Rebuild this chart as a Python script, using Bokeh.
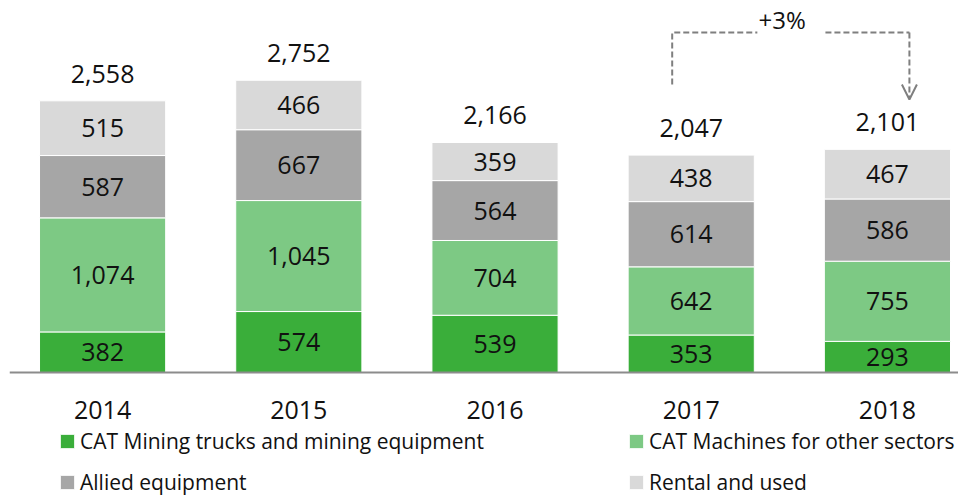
from bokeh.plotting import figure
from bokeh.models import (ColumnDataSource, Legend, LegendItem, Arrow,
                          OpenHead, Range1d, Span)
from bokeh.embed import file_html
from bokeh.resources import INLINE
from bokeh.core.properties import value

# ---- data ----
years = [2014, 2015, 2016, 2017, 2018]
mining = [382, 574, 539, 353, 293]
machines = [1074, 1045, 704, 642, 755]
allied = [587, 667, 564, 614, 586]
rental = [515, 466, 359, 438, 467]
series_names = ["CAT Mining trucks and mining equipment",
                "CAT Machines for other sectors",
                "Allied equipment",
                "Rental and used"]
growth_label = "+3%"

# ---- styles ----
colors = ["#3aae3a", "#7dc984", "#a6a6a6", "#d9d9d9"]
FONT = "Open Sans"
TXT = "#111111"

keys = ["mining", "machines", "allied", "rental"]
series = [mining, machines, allied, rental]
src = ColumnDataSource(dict(x=years, mining=mining, machines=machines,
                            allied=allied, rental=rental))

px_per_unit = 0.1062
p = figure(width=958, height=496, output_backend="svg", toolbar_location=None,
           x_range=Range1d(years[0] - 0.4745, years[0] + 4.3622),
           y_range=Range1d(-124 / px_per_unit, 365 / px_per_unit),
           min_border_left=9, min_border_right=0, min_border_top=7,
           min_border_bottom=0)
p.outline_line_color = None
p.xgrid.visible = False
p.ygrid.visible = False
p.yaxis.visible = False
p.xaxis.visible = False

renderers = p.vbar_stack(keys, x="x", width=0.643, color=colors, source=src,
                         line_color="white", line_width=1)

# baseline (category axis line)
p.add_layout(Span(location=0, dimension="width", line_color="#8c8c8c", line_width=2))

# category labels
p.text(x=years, y=[0] * len(years), text=[str(y) for y in years],
       text_align="center", text_baseline="middle", y_offset=37,
       text_font=value(FONT), text_font_size="25px", text_color=TXT)

# segment labels
lx, ly, lt = [], [], []
bottoms = [0] * len(years)
for s in series:
    for i, v in enumerate(s):
        lx.append(years[i])
        ly.append(bottoms[i] + v / 2)
        lt.append(f"{v:,}")
        bottoms[i] += v
p.text(x=lx, y=ly, text=lt, text_align="center", text_baseline="middle",
       text_font=value(FONT), text_font_size="25px", text_color=TXT)

# totals
totals = bottoms
p.text(x=years, y=totals, text=[f"{t:,}" for t in totals], text_align="center",
       text_baseline="middle", y_offset=-27, text_font=value(FONT),
       text_font_size="25px", text_color=TXT)

# growth annotation (2017 -> 2018)
xl, xr = years[3] - 0.097, years[4] + 0.112
gl, gr = years[3] + 0.337, years[3] + 0.684
ytop, ylb, ytip = 3201, 2712, 2571
dash_col = "#7f7f7f"
p.multi_line(xs=[[xl, xl, gl], [gr, xr]], ys=[[ylb, ytop, ytop], [ytop, ytop]],
             line_color=dash_col, line_width=2, line_dash="6 3")
p.add_layout(Arrow(x_start=xr, y_start=ytop, x_end=xr, y_end=ytip,
                   line_color=dash_col, line_width=2, line_dash="6 3",
                   end=OpenHead(size=15, line_color=dash_col, line_width=2)))
p.text(x=[years[3] + 0.464], y=[ytop], text=[growth_label], text_align="center",
       text_baseline="middle", y_offset=-13, text_font=value(FONT),
       text_font_size="24px", text_color=TXT)

# legend
legend = Legend(items=[LegendItem(label=n, renderers=[r]) for n, r in zip(series_names, renderers)],
                location=(49, 0), ncols=2, orientation="horizontal",
                glyph_width=18, glyph_height=18, label_standoff=4,
                label_width=534, label_height=24, spacing=13,
                padding=0, margin=0, border_line_alpha=0, background_fill_alpha=0,
                label_text_font=FONT, label_text_font_size="21px",
                label_text_color=TXT)
p.add_layout(legend)

open("out.html", "w").write(file_html(p, INLINE))
